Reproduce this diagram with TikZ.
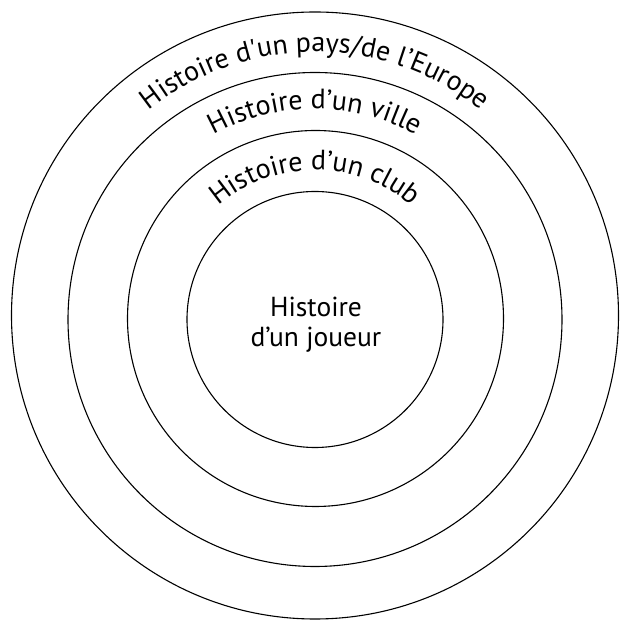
\documentclass[tikz,border=0pt]{standalone}
\usepackage{fontspec}
\setmainfont{PT Sans}
\usetikzlibrary{decorations.text}
\newcommand{\arcfont}{\fontsize{28}{30}\selectfont}
\begin{document}
\begin{tikzpicture}[x=1pt,y=1pt,
  ring/.style={draw=black,line width=1.1pt},
  arctext/.style={decorate,decoration={text along path,text align=center,text={#1}}}]
\useasboundingbox (0,0) rectangle (622,621);
% circles (image y -> 621 - y)
\draw[ring] (315,305.5) circle[radius=303.5];
\draw[ring] (315,301.5) circle[radius=247];
\draw[ring] (315.5,302.5) circle[radius=188];
\draw[ring] (315,301.5) circle[radius=128];
\coordinate (c) at (315,303);
% curved labels
\path[arctext={|\arcfont|Histoire d{\textquotesingle}un pays/de l’Europe}]
  (c) ++(170:266) arc[start angle=170,end angle=10,radius=266];
\path[arctext={|\arcfont|Histoire d’un ville}]
  (c) ++(170:209) arc[start angle=170,end angle=10,radius=209];
\path[arctext={|\arcfont|Histoire d’un club}]
  (c) ++(170:148) arc[start angle=170,end angle=10,radius=148];
% centre label
\node[align=center,font=\fontsize{27.5}{30}\selectfont] (centre) at (316,296) {Histoire\\d’un joueur};
\end{tikzpicture}
\end{document}
